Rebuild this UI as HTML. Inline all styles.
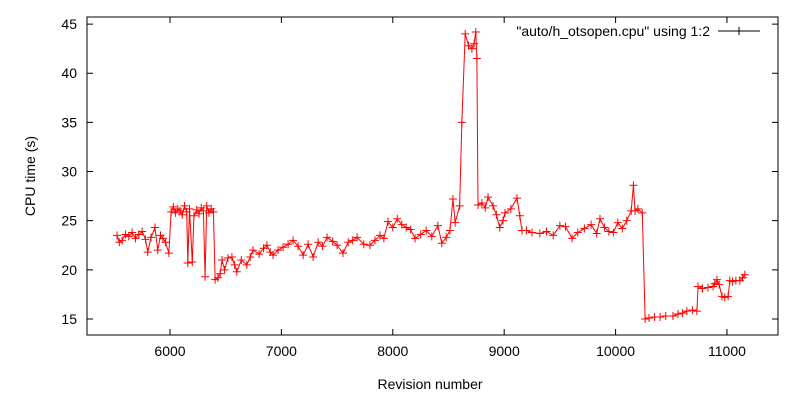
<!DOCTYPE html>
<html><head><meta charset="utf-8"><style>
body{margin:0;background:#fff;}
svg{display:block;font-family:"Liberation Sans",sans-serif;}
</style></head><body>
<svg id="chart" width="800" height="400">
<rect x="0" y="0" width="800" height="400" fill="#fff"/>
<g id="axes"></g>
<g id="series"></g>
<text x="430" y="389" font-size="14" text-anchor="middle">Revision number</text>
<text transform="translate(35,176) rotate(-90)" font-size="14" text-anchor="middle">CPU time (s)</text>
<g>
<text x="710" y="36" font-size="14" text-anchor="end">"auto/h_otsopen.cpu" using 1:2</text>
<line x1="718" y1="31" x2="760" y2="31" stroke="#000" stroke-width="1"/>
<path d="M735,31h8M739,27v8" stroke="#000"/>
</g>
</svg>
<script>
const xTicks=[6000,7000,8000,9000,10000,11000];
const yTicks=[15,20,25,30,35,40,45];
const revisions=[5525,5545,5570,5600,5630,5660,5690,5720,5750,5780,5800,5830,5865,5890,5915,5937,5960,5990,6010,6030,6050,6070,6090,6110,6130,6150,6160,6175,6200,6215,6240,6260,6280,6300,6315,6330,6350,6370,6390,6405,6430,6450,6467,6490,6520,6556,6580,6600,6640,6690,6720,6745,6800,6840,6870,6900,6925,6970,7015,7060,7105,7150,7195,7240,7285,7330,7370,7410,7460,7500,7553,7600,7640,7680,7740,7795,7840,7885,7920,7957,8000,8040,8080,8120,8160,8200,8250,8300,8350,8405,8440,8480,8513,8540,8560,8600,8620,8650,8680,8710,8730,8745,8755,8765,8800,8830,8855,8900,8930,8960,8990,9007,9060,9115,9140,9160,9200,9250,9320,9380,9440,9500,9550,9610,9660,9720,9780,9830,9860,9900,9940,9980,10020,10060,10100,10140,10160,10175,10200,10240,10265,10300,10350,10400,10450,10515,10560,10600,10640,10690,10730,10740,10780,10830,10875,10890,10910,10930,10955,10980,11010,11025,11050,11080,11115,11140,11160];
const cpuTimes=[23.5,22.8,23.0,23.6,23.4,23.8,23.2,23.6,23.9,23.1,21.8,23.3,24.3,22.0,23.5,23.2,22.8,21.7,25.9,26.4,25.8,26.2,26.0,25.6,26.5,25.9,20.7,26.2,20.8,25.5,26.1,25.7,26.3,26.0,19.3,26.5,25.8,26.2,25.9,19.0,19.2,19.6,21.0,20.0,21.2,21.3,20.5,19.8,21.0,20.5,21.3,22.0,21.6,22.2,22.5,21.8,21.5,22.0,22.3,22.6,23.0,22.4,21.5,22.6,21.3,22.8,22.4,23.3,22.9,22.5,21.7,22.8,23.0,23.3,22.6,22.5,23.0,23.5,23.2,24.9,24.3,25.2,24.6,24.3,24.1,23.2,23.6,24.0,23.4,24.5,22.7,23.3,24.0,27.2,24.8,26.5,35.0,44.0,42.8,42.5,43.0,44.2,41.5,26.6,26.8,26.3,27.4,26.5,25.6,24.3,25.0,25.8,26.2,27.3,25.5,24.0,24.0,23.8,23.7,23.9,23.5,24.5,24.4,23.2,23.8,24.2,24.6,23.7,25.2,24.3,23.9,23.8,24.8,24.2,25.0,26.0,28.6,26.0,26.2,25.8,15.0,15.1,15.2,15.2,15.3,15.3,15.5,15.6,15.8,15.9,15.8,18.3,18.1,18.2,18.3,18.6,19.0,18.5,17.3,17.2,17.3,18.9,18.8,18.9,18.9,19.2,19.5];
const NS='http://www.w3.org/2000/svg';
const L=87,R=778,T=17,B=335;
const xMin=5255,xMax=11458,yMin=13.37,yMax=45.72;
function xs(v){return L+(v-xMin)/(xMax-xMin)*(R-L);}
function ys(v){return B-(v-yMin)/(yMax-yMin)*(B-T);}
const axes=document.getElementById('axes');
function mk(tag,attrs,parent){const e=document.createElementNS(NS,tag);for(const k in attrs)e.setAttribute(k,attrs[k]);parent.appendChild(e);return e;}
const frame=mk('rect',{x:L,y:T,width:R-L,height:B-T,fill:'none',stroke:'#000','stroke-width':1},axes);


xTicks.forEach(t=>{const x=xs(t);
 const tk=mk('path',{d:`M${x},${B}v-6M${x},${T}v6`,stroke:'#000'},axes);
 
 
 const lb=mk('text',{x:x,y:B+21,'font-size':14,'text-anchor':'middle'},axes);lb.textContent=t;
 
 });
yTicks.forEach(t=>{const y=ys(t);
 const tk=mk('path',{d:`M${L},${y}h6M${R},${y}h-6`,stroke:'#000'},axes);
 
 
 const lb=mk('text',{x:L-10,y:y+5,'font-size':14,'text-anchor':'end'},axes);lb.textContent=t;
 
 });
const ser=document.getElementById('series');
const pts=revisions.map((r,i)=>[xs(r),ys(cpuTimes[i])]);
const line=mk('polyline',{points:pts.map(p=>p.join(',')).join(' '),fill:'none',stroke:'#f00','stroke-width':1},ser);


pts.forEach(p=>{const m=mk('path',{d:`M${p[0]-4},${p[1]}h8M${p[0]},${p[1]-4}v8`,stroke:'#f00','stroke-width':1},ser);
 
 });
</script>
</body></html>
